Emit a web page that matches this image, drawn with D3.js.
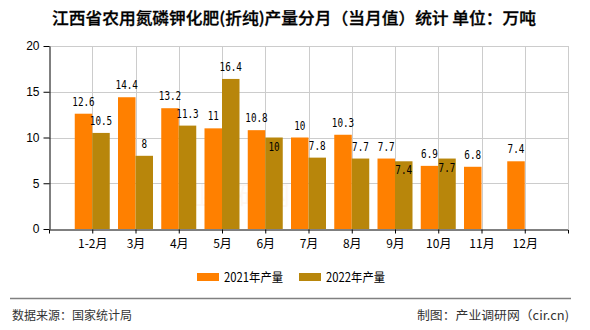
<!DOCTYPE html>
<html><head><meta charset="utf-8">
<script src="https://cdn.jsdelivr.net/npm/d3@7"></script>
<style>
body{margin:0;background:#fff;}
svg{display:block;font-family:"Liberation Sans",Arial,sans-serif;}
</style></head>
<body><svg id="c" width="590" height="330"></svg>
<script>
const categories = ["1-2月","3月","4月","5月","6月","7月","8月","9月","10月","11月","12月"];
const series = ["2021年产量","2022年产量"];
const values2021 = [12.6,14.4,13.2,11,10.8,10,10.3,7.7,6.9,6.8,7.4];
const values2022 = [10.5,8,11.3,16.4,10,7.8,7.7,7.4,7.7,null,null];
const yTicks = [0,5,10,15,20];
const colors = ["#FF8000","#B8860B"];
const title = "江西省农用氮磷钾化肥(折纯)产量分月（当月值）统计 单位：万吨";
const sourceText = "数据来源：国家统计局";
const creditText = "制图：产业调研网（cir.cn)";

const svg = d3.select("#c");
const L=49, R=568, T=46, B=229;
const x = d3.scalePoint().domain(categories).range([L,R]).padding(1);
const y = d3.scaleLinear().domain([0,20]).range([B,T]);
const sub = d3.scaleBand().domain(series).range([-17.5,17.5]);

// title
svg.append("text").attr("x",294).attr("y",24).attr("text-anchor","middle")
  .attr("font-family","'Noto Sans CJK SC',sans-serif").attr("font-size",16).attr("font-weight","500")
  .attr("stroke","#000").attr("stroke-width",0.3)
  .attr("textLength",484).attr("lengthAdjust","spacingAndGlyphs").attr("fill","#000").text(title);

// watermark
svg.append("text").attr("x",160).attr("y",205).attr("font-family","'Noto Sans CJK SC',sans-serif")
  .attr("font-size",26).attr("fill","#f0a060").attr("opacity",0.07).text("产业调研网");

// grid
const g = svg.append("g");
g.selectAll(".hg").data(yTicks.filter(d=>d>0)).join("line")
  .attr("x1",L).attr("x2",R).attr("y1",d=>Math.round(y(d))+0.5).attr("y2",d=>Math.round(y(d))+0.5)
  .attr("stroke","#cccccc");
g.selectAll(".vg").data(categories).join("line")
  .attr("x1",d=>Math.round(x(d))+0.5).attr("x2",d=>Math.round(x(d))+0.5).attr("y1",T).attr("y2",B)
  .attr("stroke","#cccccc");
g.append("line").attr("x1",R+0.5).attr("x2",R+0.5).attr("y1",T).attr("y2",B).attr("stroke","#cccccc");

// bars
const all = [values2021, values2022];
series.forEach((s,si)=>{
  const data = categories.map((c,i)=>({c, v: all[si][i]})).filter(d=>d.v!=null);
  svg.append("g").selectAll("rect").data(data).join("rect")
    .attr("x",d=>x(d.c)+sub(s)).attr("width",sub.bandwidth())
    .attr("y",d=>y(d.v)).attr("height",d=>y(0)-y(d.v)).attr("fill",colors[si]);
});

// labels
const lab = svg.append("g").attr("font-family","'DejaVu Sans Mono','Liberation Mono',monospace")
  .attr("font-size",11.5).attr("text-anchor","middle").attr("fill","#000");
series.forEach((s,si)=>{
  categories.forEach((c,i)=>{
    const v = all[si][i]; if(v==null) return;
    let yy = y(v) - 8;
    if(si===1){
      const o = values2021[i];
      if(o!=null && Math.abs(o-v) < 1) yy = y(v) + 13;
    }
    lab.append("text").attr("x",x(c)+sub(s)+sub.bandwidth()/2).attr("y",yy)
      .attr("textLength", String(v).length*5.6).attr("lengthAdjust","spacingAndGlyphs").text(v);
  });
});

// axes
const ya = svg.append("g").attr("transform",`translate(${L+0.5},0)`)
  .call(d3.axisLeft(y).tickValues(yTicks).tickSize(6).tickSizeOuter(0).tickPadding(4));
ya.selectAll("text").attr("font-size",12).attr("fill","#000").attr("font-family","'Liberation Sans',Arial,sans-serif");
ya.selectAll("line,path").attr("stroke","#000");

const xa = svg.append("g").attr("transform",`translate(0,${B+0.5})`)
  .call(d3.axisBottom(x).tickSize(4).tickSizeOuter(4).tickPadding(6));
xa.selectAll("text").attr("font-size",12).attr("fill","#000").attr("font-family","'Noto Sans CJK SC',sans-serif");
xa.selectAll("line,path").attr("stroke","#000");

// legend
const lg = svg.append("g");
const lx = [197, 299];
series.forEach((s,i)=>{
  lg.append("rect").attr("x",lx[i]).attr("y",273).attr("width",22).attr("height",8).attr("fill",colors[i]);
  lg.append("text").attr("x",lx[i]+27).attr("y",282).attr("font-size",12.5)
    .attr("font-family","'Noto Sans CJK SC',sans-serif").attr("textLength",59).attr("lengthAdjust","spacingAndGlyphs")
    .attr("fill","#000").text(s);
});

// footer
svg.append("line").attr("x1",10).attr("x2",571).attr("y1",298.5).attr("y2",298.5).attr("stroke","#808080").attr("stroke-width",1.5);
svg.append("text").attr("x",12).attr("y",320).attr("font-size",12).attr("fill","#333")
  .attr("font-family","'Noto Sans CJK SC',sans-serif").attr("textLength",120).attr("lengthAdjust","spacingAndGlyphs").text(sourceText);
svg.append("text").attr("x",569).attr("y",320).attr("text-anchor","end").attr("font-size",12).attr("fill","#333")
  .attr("font-family","'Noto Sans CJK SC',sans-serif").attr("textLength",152).attr("lengthAdjust","spacingAndGlyphs").text(creditText);
</script></body></html>
